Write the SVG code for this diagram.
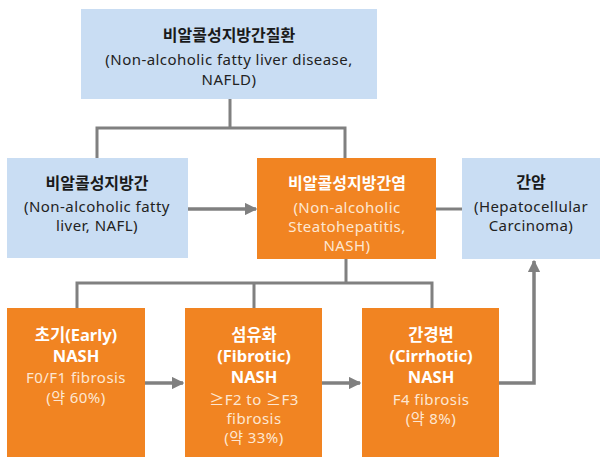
<svg xmlns="http://www.w3.org/2000/svg" width="601" height="457" viewBox="0 0 601 457">
  <style>
    .blue { fill: #C9DDF3; }
    .orange { fill: #F18422; }
    text { font-family: "Noto Sans", "Noto Sans CJK KR", sans-serif; text-anchor: middle; }
    .t { font-size: 16px; font-weight: bold; fill: #1a1a1a; font-family: "Noto Sans CJK KR", sans-serif; }
    .s { font-size: 15px; letter-spacing: 0.45px; fill: #222; }
    .tw { font-size: 16.5px; font-weight: bold; fill: #ffffff; }
    .sw { font-size: 15px; letter-spacing: 0.45px; fill: #FDE7D2; }
    .ln { fill: none; stroke: #808080; stroke-width: 3; }
    .ar { fill: none; stroke: #808080; stroke-width: 3.5; marker-end: url(#ah); }
  </style>
  <defs>
    <marker id="ah" viewBox="0 0 10 10" refX="9" refY="5" markerWidth="3.6" markerHeight="3.6" orient="auto" markerUnits="strokeWidth">
      <path d="M0,0 L10,5 L0,10 Z" fill="#808080"/>
    </marker>
  </defs>

  <rect width="601" height="457" fill="#ffffff"/>

  <!-- connectors -->
  <g id="connectors">
    <path class="ln" d="M230,99 V128 M97,158 V128 H345 V158"/>
    <path class="ar" d="M188,209 H256"/>
    <path class="ln" d="M436,209 H462"/>
    <path class="ln" d="M346,259 V283 M77,308 V283 H432 V308 M254,283 V308"/>
    <path class="ar" d="M145,383 H183"/>
    <path class="ar" d="M322,383 H360"/>
    <path class="ar" d="M499,383 H534 V261"/>
  </g>

  <g id="nafld">
    <rect class="blue" x="81" y="9" width="296" height="90"/>
    <text class="t" x="229" y="41">비알콜성지방간질환</text>
    <text class="s" x="229" y="65">(Non-alcoholic fatty liver disease,</text>
    <text class="s" x="229" y="85">NAFLD)</text>
  </g>

  <g id="nafl">
    <rect class="blue" x="7" y="158" width="181" height="100"/>
    <text class="t" x="97" y="189">비알콜성지방간</text>
    <text class="s" x="97" y="212">(Non-alcoholic fatty</text>
    <text class="s" x="97" y="231">liver, NAFL)</text>
  </g>

  <g id="nash">
    <rect class="orange" x="257" y="158" width="179" height="101"/>
    <text class="tw" x="347" y="189" style="font-family:'Noto Sans CJK KR',sans-serif;font-size:16px">비알콜성지방간염</text>
    <text class="sw" x="347" y="213">(Non-alcoholic</text>
    <text class="sw" x="347" y="232">Steatohepatitis,</text>
    <text class="sw" x="347" y="251">NASH)</text>
  </g>

  <g id="hcc">
    <rect class="blue" x="462" y="158" width="138" height="101"/>
    <text class="t" x="531" y="188">간암</text>
    <text class="s" x="531" y="212">(Hepatocellular</text>
    <text class="s" x="531" y="231">Carcinoma)</text>
  </g>

  <g id="early-nash">
    <rect class="orange" x="7" y="308" width="138" height="149"/>
    <text class="tw" x="76" y="341">초기(Early)</text>
    <text class="tw" x="76" y="362">NASH</text>
    <text class="sw" x="76" y="383">F0/F1 fibrosis</text>
    <text class="sw" x="76" y="403">(약 60%)</text>
  </g>

  <g id="fibrotic-nash">
    <rect class="orange" x="185" y="308" width="137" height="149"/>
    <text class="tw" x="254" y="341">섬유화</text>
    <text class="tw" x="254" y="362">(Fibrotic)</text>
    <text class="tw" x="254" y="383">NASH</text>
    <text class="sw" x="254" y="405">≥F2 to ≥F3</text>
    <text class="sw" x="254" y="424">fibrosis</text>
    <text class="sw" x="254" y="443">(약 33%)</text>
  </g>

  <g id="cirrhotic-nash">
    <rect class="orange" x="362" y="308" width="137" height="149"/>
    <text class="tw" x="431" y="341">간경변</text>
    <text class="tw" x="431" y="362">(Cirrhotic)</text>
    <text class="tw" x="431" y="383">NASH</text>
    <text class="sw" x="431" y="405">F4 fibrosis</text>
    <text class="sw" x="431" y="424">(약 8%)</text>
  </g>
</svg>
